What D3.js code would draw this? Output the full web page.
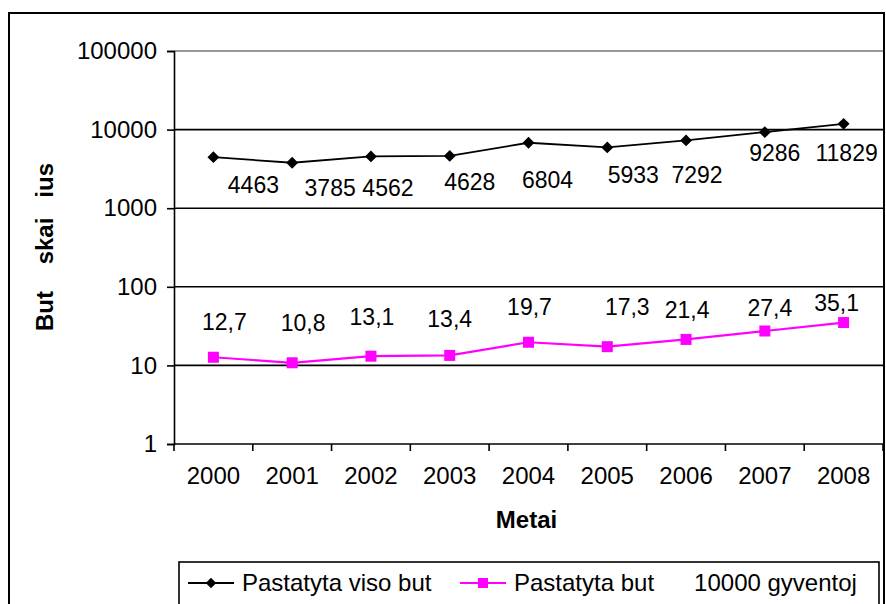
<!DOCTYPE html>
<html>
<head>
<meta charset="utf-8">
<script src="https://cdn.jsdelivr.net/npm/d3@7"></script>
<style>
  body { margin: 0; background: #fff; }
  text { font-family: "Liberation Sans", Arial, sans-serif; }
</style>
</head>
<body>
<div id="chart"></div>
<script>
// data
var years = ["2000", "2001", "2002", "2003", "2004", "2005", "2006", "2007", "2008"];
var visoButu = [4463, 3785, 4562, 4628, 6804, 5933, 7292, 9286, 11829];
var butuGyv = [12.7, 10.8, 13.1, 13.4, 19.7, 17.3, 21.4, 27.4, 35.1];
var yTicks = [1, 10, 100, 1000, 10000, 100000];
var seriesNames = ["Pastatyta viso but", "Pastatyta but      10000 gyventoj"];

// hand placed data labels (like in the excel file), offsets from the point
var visoLabelOff = [[40, 28], [38, 25], [17, 32], [20, 26], [19, 37], [26, 28], [11, 35], [10, 21], [3, 29]];
var gyvLabelOff = [[11, -35], [11, -40], [1, -39], [0, -36], [1, -35], [20, -40], [1, -29], [5, -23], [-7, -20]];

var W = 886, H = 604;
var margin = { top: 51, left: 174, right: 3, bottom: 160 };
var width = W - margin.left - margin.right;
var height = H - margin.top - margin.bottom;
var fs = "24px";     // axis + legend text
var fsLab = "23px";  // data labels

var svg = d3.select("#chart").append("svg")
    .attr("width", W)
    .attr("height", H);

// outer frame
svg.append("rect")
    .attr("x", 9).attr("y", 13)
    .attr("width", 875).attr("height", 620)
    .attr("fill", "none")
    .attr("stroke", "#000")
    .attr("stroke-width", 2);

var g = svg.append("g")
    .attr("transform", "translate(" + margin.left + " " + margin.top + ")");

var x = d3.scaleBand()
    .domain(years)
    .range([0, width]);

var y = d3.scaleLog()
    .domain([1, 100000])
    .range([height, 0]);

// gridlines
g.selectAll(".grid")
    .data(yTicks.slice(1)).enter()
    .append("line")
        .attr("x1", 0)
        .attr("x2", width)
        .attr("y1", function(d) { return y(d); })
        .attr("y2", function(d) { return y(d); })
        .attr("stroke", function(d) { return d === 100000 ? "#777" : "#000"; })
        .attr("stroke-width", 1.6);

// y axis
var yAxis = g.append("g")
    .call(d3.axisLeft(y).tickValues(yTicks).tickFormat(d3.format("d")).tickSize(7).tickPadding(10));
yAxis.select(".domain").attr("stroke-width", 1.6);
yAxis.selectAll("line").attr("stroke-width", 1.6);
yAxis.selectAll("text").attr("font-size", fs).attr("fill", "#000")
    .attr("font-family", "Liberation Sans, Arial, sans-serif");

// x axis, ticks at category borders
var xAxis = g.append("g")
    .attr("transform", "translate(0 " + height + ")");
xAxis.append("line")
    .attr("x1", 0).attr("x2", width)
    .attr("stroke", "#000").attr("stroke-width", 1.6);
xAxis.selectAll(".tk")
    .data(years.concat(["end"])).enter()
    .append("line")
        .attr("x1", function(d, i) { return i * x.step(); })
        .attr("x2", function(d, i) { return i * x.step(); })
        .attr("y1", 0).attr("y2", 7)
        .attr("stroke", "#000").attr("stroke-width", 1.6);
xAxis.selectAll(".lbl")
    .data(years).enter()
    .append("text")
        .attr("x", function(d) { return x(d) + x.bandwidth() / 2; })
        .attr("y", 40)
        .attr("text-anchor", "middle")
        .attr("font-size", fs)
        .text(function(d) { return d; });

// axis titles
g.append("text")
    .attr("x", width / 2 - 2)
    .attr("y", height + 84)
    .attr("text-anchor", "middle")
    .attr("font-size", "24px")
    .attr("font-weight", "bold")
    .text("Metai");

svg.append("text")
    .attr("transform", "translate(53 247) rotate(-90)")
    .attr("text-anchor", "middle")
    .attr("font-size", "24px")
    .attr("font-weight", "bold")
    .style("white-space", "pre")
    .text("But    skai   ius");

function cx(d, i) { return x(years[i]) + x.bandwidth() / 2; }

// black series
var line = d3.line()
    .x(function(d, i) { return cx(d, i); })
    .y(function(d) { return y(d); });

g.append("path")
    .datum(visoButu)
    .attr("d", line)
    .attr("fill", "none")
    .attr("stroke", "#000")
    .attr("stroke-width", 1.8);

var diamond = d3.symbol().type(d3.symbolDiamond2).size(90);
g.selectAll(".dia")
    .data(visoButu).enter()
    .append("path")
        .attr("d", diamond)
        .attr("transform", function(d, i) { return "translate(" + cx(d, i) + " " + y(d) + ")"; })
        .attr("fill", "#000");

g.selectAll(".lab1")
    .data(visoButu).enter()
    .append("text")
        .attr("x", function(d, i) { return cx(d, i) + visoLabelOff[i][0]; })
        .attr("y", function(d, i) { return y(d) + visoLabelOff[i][1]; })
        .attr("dy", "0.35em")
        .attr("text-anchor", "middle")
        .attr("font-size", fsLab)
        .text(function(d) { return d; });

// magenta series
g.append("path")
    .datum(butuGyv)
    .attr("d", line)
    .attr("fill", "none")
    .attr("stroke", "#ff00ff")
    .attr("stroke-width", 2.2);

g.selectAll(".sq")
    .data(butuGyv).enter()
    .append("rect")
        .attr("x", function(d, i) { return cx(d, i) - 5.5; })
        .attr("y", function(d) { return y(d) - 5.5; })
        .attr("width", 11).attr("height", 11)
        .attr("fill", "#ff00ff");

g.selectAll(".lab2")
    .data(butuGyv).enter()
    .append("text")
        .attr("x", function(d, i) { return cx(d, i) + gyvLabelOff[i][0]; })
        .attr("y", function(d, i) { return y(d) + gyvLabelOff[i][1]; })
        .attr("dy", "0.35em")
        .attr("text-anchor", "middle")
        .attr("font-size", fsLab)
        .text(function(d) { return d3.format(".1f")(d).replace(".", ","); });

// legend
var leg = svg.append("g");
leg.append("rect")
    .attr("x", 179).attr("y", 562)
    .attr("width", 700).attr("height", 50)
    .attr("fill", "#fff")
    .attr("stroke", "#000")
    .attr("stroke-width", 1.6);

var legItems = [
    { name: seriesNames[0], color: "#000", x0: 188, marker: "diamond" },
    { name: seriesNames[1], color: "#ff00ff", x0: 460, marker: "square" }
];
legItems.forEach(function(it) {
    leg.append("line")
        .attr("x1", it.x0).attr("x2", it.x0 + 46)
        .attr("y1", 583).attr("y2", 583)
        .attr("stroke", it.color).attr("stroke-width", 2);
    if (it.marker === "diamond") {
        leg.append("path")
            .attr("d", d3.symbol().type(d3.symbolDiamond2).size(70))
            .attr("transform", "translate(" + (it.x0 + 23) + " 583)")
            .attr("fill", it.color);
    } else {
        leg.append("rect")
            .attr("x", it.x0 + 18).attr("y", 578)
            .attr("width", 10).attr("height", 10)
            .attr("fill", it.color);
    }
    leg.append("text")
        .attr("x", it.x0 + 54)
        .attr("y", 583)
        .attr("dy", "0.35em")
        .attr("font-size", fs)
        .style("white-space", "pre")
        .text(it.name);
});
</script>
</body>
</html>
